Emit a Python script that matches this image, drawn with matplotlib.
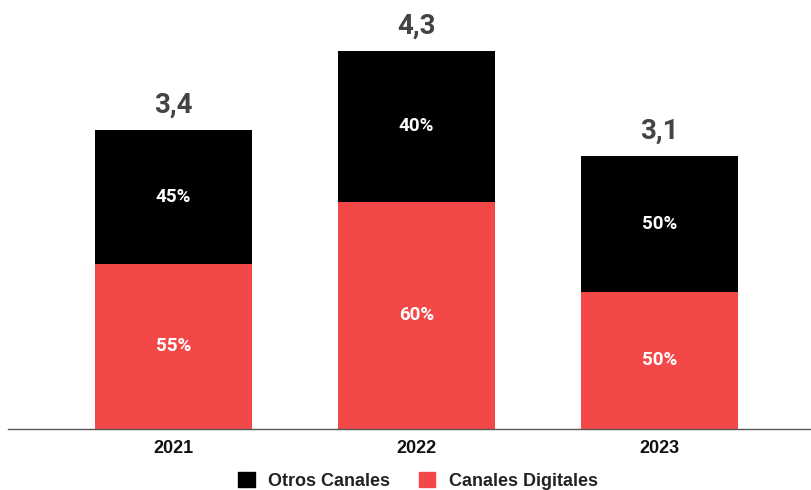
import matplotlib.pyplot as plt
from matplotlib.patches import Patch

years = ['2021', '2022', '2023']
totals = [3.4, 4.3, 3.1]
digitales_pct = [55, 60, 50]
otros_pct = [45, 40, 50]

red = '#F44848'
black = '#000000'

fig = plt.figure(figsize=(8.11, 4.90), dpi=100)
ax = fig.add_axes([8 / 811, 61.5 / 490, 1 - 8 / 811, 428.5 / 490])

x = list(range(len(years)))
digitales = [t * p / 100 for t, p in zip(totals, digitales_pct)]
otros = [t * p / 100 for t, p in zip(totals, otros_pct)]

ax.bar(x, digitales, width=0.646, color=red)
ax.bar(x, otros, width=0.646, bottom=digitales, color=black)

for i in x:
    ax.text(i, digitales[i] / 2, f'{digitales_pct[i]}%', ha='center', va='center',
            color='white', fontsize=13.5, fontweight='bold', family='Roboto')
    ax.text(i, digitales[i] + otros[i] / 2, f'{otros_pct[i]}%', ha='center', va='center',
            color='white', fontsize=13.5, fontweight='bold', family='Roboto')
    ax.annotate(f'{totals[i]:.1f}'.replace('.', ','), (i, totals[i]),
                xytext=(0, 8), textcoords='offset points', ha='center', va='bottom',
                color='#444444', fontsize=20, fontweight='bold', family='Roboto')

ax.set_xlim(-0.681, 2.623)
ax.set_ylim(0, 428.5 / 87.9)
ax.set_xticks(x)
ax.set_xticklabels(years, fontsize=13, fontweight='bold', family='Liberation Sans', color='#111111')
ax.tick_params(axis='x', length=0, pad=8)
ax.set_yticks([])
for s in ['top', 'left', 'right']:
    ax.spines[s].set_visible(False)
ax.spines['bottom'].set_color('#555555')
ax.spines['bottom'].set_linewidth(1.0)

handles = [Patch(color=black, label='Otros Canales'), Patch(color=red, label='Canales Digitales')]
fig.legend(handles=handles, loc='center', bbox_to_anchor=(418 / 811, 1 - 481 / 490), ncol=2,
           frameon=False, handlelength=0.9, handleheight=0.9, handletextpad=0.75, columnspacing=1.6,
           prop={'family': 'Liberation Sans', 'weight': 'bold', 'size': 13}, labelcolor='#222222')

fig.savefig('out.png', dpi=100)
